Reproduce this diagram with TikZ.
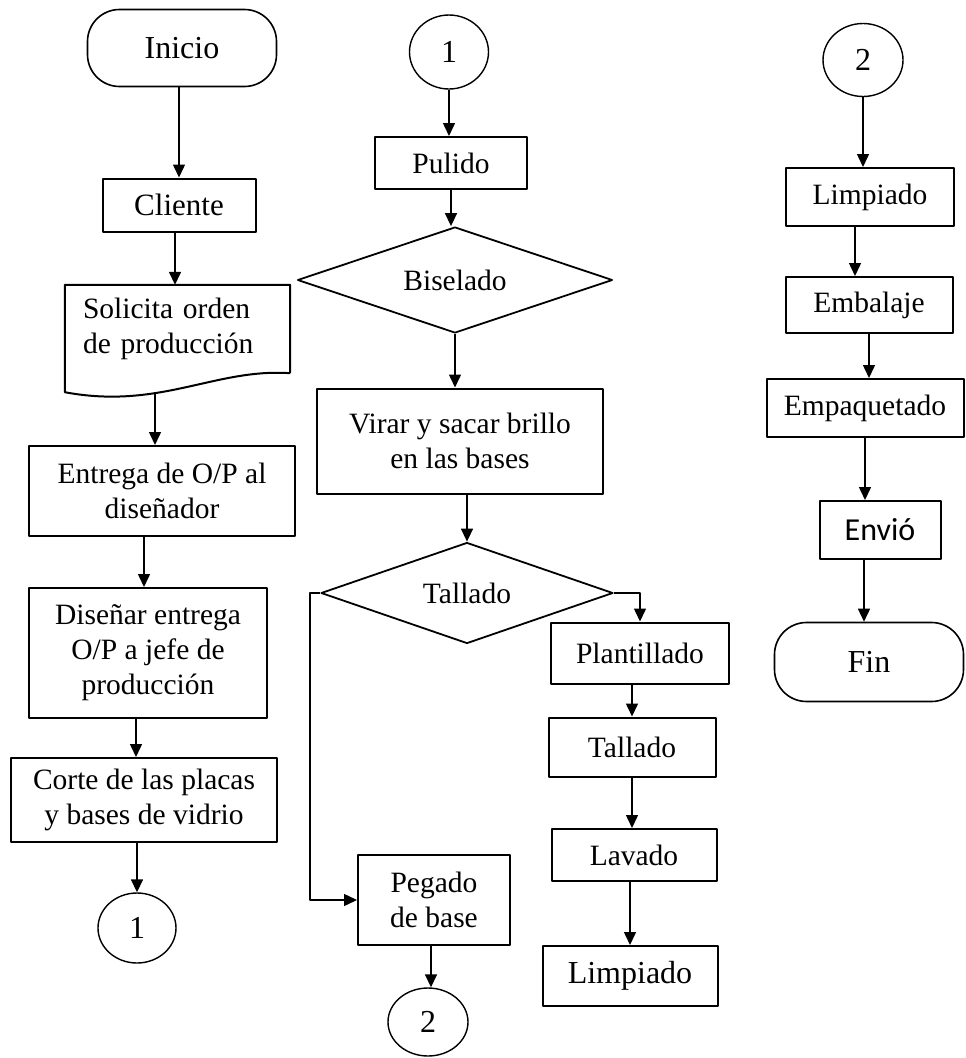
\documentclass[tikz,border=0pt]{standalone}
\usepackage{fontspec}
\setmainfont{Liberation Serif}
\newfontfamily\calibri{Carlito}
\usetikzlibrary{arrows.meta,calc,shapes.geometric}

\begin{document}
\begin{tikzpicture}[x=1pt,y=-1pt,line join=round,
  font=\fontsize{29.5}{35}\selectfont,
  flecha/.style={-{Triangle[length=13pt,width=12pt]},line width=1.5pt},
  caja/.style={draw,rectangle,line width=2pt,inner sep=0pt,align=center},
  rombo/.style={draw,diamond,aspect=3,line width=1.8pt,inner sep=0pt},
  conector/.style={draw,ellipse,line width=1.4pt,inner sep=0pt,font=\fontsize{32}{38}\selectfont},
  terminal/.style={draw,rectangle,rounded corners=32pt,line width=1.6pt,inner sep=0pt,
    font=\fontsize{32}{38}\selectfont}]
\path[use as bounding box] (0,0) rectangle (966,1058);
\fill[white] (0,0) rectangle (966,1058);
% 第一列：从客户到切割
\node[terminal,minimum width=189pt,minimum height=77pt] (inicio) at (182,48) {Inicio};
\node[caja,minimum width=153pt,minimum height=53pt,font=\fontsize{31}{36}\selectfont] (cliente) at (179,205) {Cliente};
\node[align=left,text width=189pt,inner xsep=18pt,inner ysep=0pt,minimum height=88pt] (solicita) at (177.5,329)
  {Solicita orden\\de producción};
\draw[line width=2pt] (solicita.south east) -- (solicita.north east) -- (solicita.north west)
  -- ($(solicita.south west)+(0,19)$) .. controls (160,410) and (215,368) .. (solicita.south east);
\node[caja,minimum width=266pt,minimum height=90pt] (entrega) at (162,491) {Entrega de O/P al\\diseñador};
\node[caja,minimum width=238pt,minimum height=130pt] (disenar) at (148,653) {Diseñar entrega\\O/P a jefe de\\producción};
\node[caja,minimum width=266pt,minimum height=84pt] (corte) at (144,800) {Corte de las placas\\y bases de vidrio};
\node[conector,minimum width=78pt,minimum height=70pt] (conA) at (137,928) {1};
% 第二列：抛光、斜边、雕刻
\node[conector,minimum width=79pt,minimum height=74pt] (conAb) at (449,52) {1};
\node[caja,minimum width=152pt,minimum height=52pt] (pulido) at (451,163) {Pulido};
\node[rombo,minimum width=315pt,minimum height=106pt] (biselado) at (455,280) {Biselado};
\node[caja,minimum width=286pt,minimum height=105pt] (virar) at (460,441) {Virar y sacar brillo\\en las bases};
\node[rombo,minimum width=292pt,minimum height=101pt] (tallado) at (467,593) {Tallado};
\node[caja,minimum width=178pt,minimum height=61pt] (plantillado) at (640,653) {Plantillado};
\node[caja,minimum width=167pt,minimum height=59pt] (talladoB) at (632,747) {Tallado};
\node[caja,minimum width=165pt,minimum height=52pt] (lavado) at (634,855) {Lavado};
\node[caja,minimum width=175pt,minimum height=60pt,font=\fontsize{32}{38}\selectfont] (limpiadoA) at (630,976) {Limpiado};
\node[caja,minimum width=152pt,minimum height=90pt] (pegado) at (434,900) {Pegado\\de base};
\node[conector,minimum width=80pt,minimum height=68pt] (conB) at (428,1022) {2};
% 第三列：包装与发送
\node[conector,minimum width=80pt,minimum height=73pt] (conBb) at (863,60) {2};
\node[caja,minimum width=168pt,minimum height=58pt] (limpiadoB) at (870,197) {Limpiado};
\node[caja,minimum width=167pt,minimum height=56pt] (embalaje) at (869,305) {Embalaje};
\node[caja,minimum width=197pt,minimum height=58pt] (empaquetado) at (865,408) {Empaquetado};
\node[caja,minimum width=121pt,minimum height=58pt,font=\calibri\fontsize{32}{38}\selectfont] (envio) at (880,530) {Envió};
\node[terminal,minimum width=189pt,minimum height=79pt] (fin) at (869,662) {Fin};
% 连线
\coordinate (solPie) at (155,393);
\draw[flecha] (cliente.north |- inicio.south) -- (cliente.north);
\draw[flecha] ([xshift=-4pt]cliente.south) -- ([xshift=-4pt]cliente.south |- solicita.north);
\draw[flecha] (solPie) -- (solPie |- entrega.north);
\draw[flecha] ([xshift=-4pt]disenar.north |- entrega.south) -- ([xshift=-4pt]disenar.north);
\draw[flecha] ([xshift=-8pt]corte.north |- disenar.south) -- ([xshift=-8pt]corte.north);
\draw[flecha] (conA.north |- corte.south) -- (conA.north);
\draw[flecha] (conAb.south) -- (conAb.south |- pulido.north);
\draw[flecha] (pulido.south) -- (pulido.south |- biselado.north);
\draw[flecha] (biselado.south) -- (biselado.south |- virar.north);
\draw[flecha] (tallado.north |- virar.south) -- (tallado.north);
\draw[flecha] (tallado.west) -- ++(-10,0) |- (pegado.west);
\draw[flecha] (tallado.east) -| (plantillado.north);
\draw[flecha] (talladoB.north |- plantillado.south) -- (talladoB.north);
\draw[flecha] (talladoB.south) -- (talladoB.south |- lavado.north);
\draw[flecha] (limpiadoA.north |- lavado.south) -- (limpiadoA.north);
\draw[flecha] ([xshift=-3pt]pegado.south) -- ([xshift=-3pt]pegado.south |- conB.north);
\draw[flecha] (conBb.south) -- (conBb.south |- limpiadoB.north);
\draw[flecha] ([xshift=-15pt]limpiadoB.south) -- ([xshift=-15pt]limpiadoB.south |- embalaje.north);
\draw[flecha] (embalaje.south) -- (embalaje.south |- empaquetado.north);
\draw[flecha] (empaquetado.south) -- (empaquetado.south |- envio.north);
\draw[flecha] ([xshift=-16pt]envio.south) -- ([xshift=-16pt]envio.south |- fin.north);
\end{tikzpicture}
\end{document}
